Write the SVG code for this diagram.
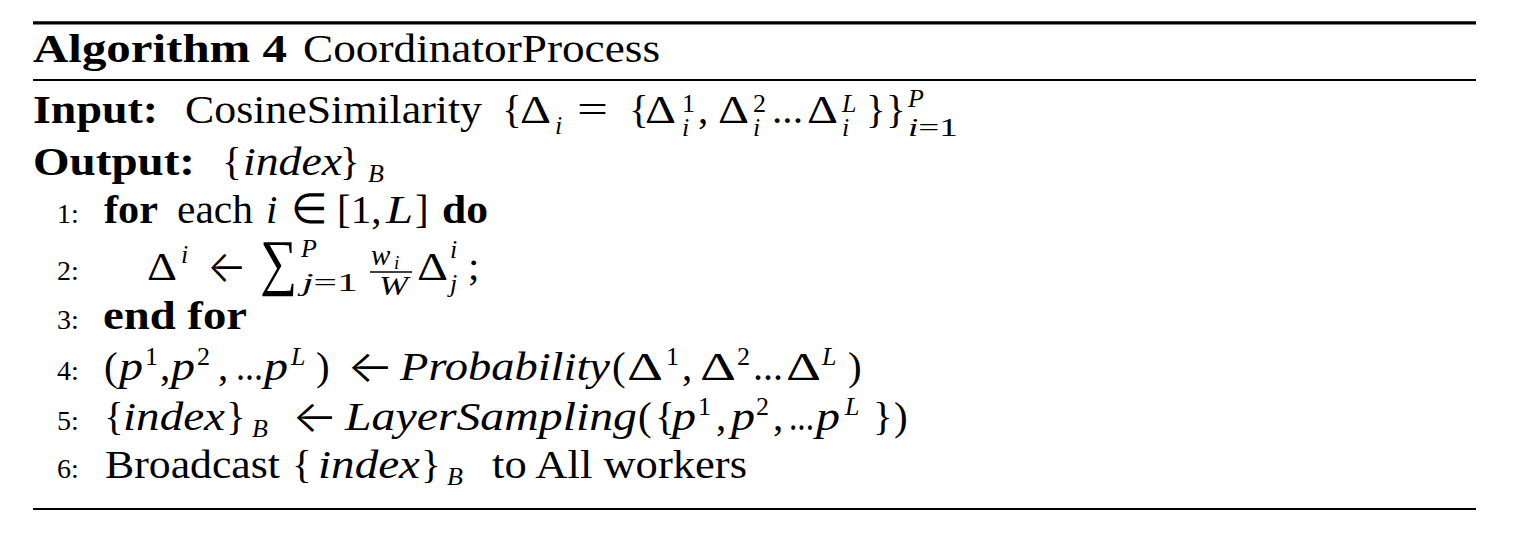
<svg xmlns="http://www.w3.org/2000/svg" width="1531" height="538" viewBox="0 0 1531 538" font-family="'Liberation Serif', 'Times New Roman', serif">
<style>
text { font-family: "Liberation Serif", "Times New Roman", serif; fill: #000; }
.m { font-size: 41px; }
.s { font-size: 26px; }
.ss { font-size: 19px; }
.n { font-size: 28px; }
.b { font-weight: bold; }
.i { font-style: italic; }
text.ar { font-family: "Inter", "DejaVu Sans", sans-serif; font-weight: 300; font-size: 44px; }
text.sym { font-family: "Inter", "DejaVu Sans", sans-serif; font-weight: 300; font-size: 42px; }
.rule { stroke: #000; }
</style>
<rect width="1531" height="538" fill="#fff"/>
<g id="rules">
<line class="rule" x1="33" y1="22.8" x2="1476" y2="22.8" stroke-width="3.2"/>
<line class="rule" x1="33" y1="80" x2="1476" y2="80" stroke-width="2.2"/>
<line class="rule" x1="33" y1="509" x2="1476" y2="509" stroke-width="2.2"/>
</g>
<g id="header">
<text class="m b" x="33" y="62" textLength="254" lengthAdjust="spacingAndGlyphs">Algorithm 4</text>
<text class="m" x="303" y="62" textLength="357" lengthAdjust="spacingAndGlyphs">CoordinatorProcess</text>
</g>
<g id="input">
<text class="m b" x="33" y="123" textLength="125" lengthAdjust="spacingAndGlyphs">Input:</text>
<text class="m" x="185" y="123" textLength="297" lengthAdjust="spacingAndGlyphs">CosineSimilarity</text>
<text class="m" x="502" y="123">{</text>
<text class="m" x="520" y="123" textLength="31" lengthAdjust="spacingAndGlyphs">Δ</text>
<text class="s i" x="555" y="134">i</text>
<text class="m" x="577" y="123" textLength="31" lengthAdjust="spacingAndGlyphs">=</text>
<text class="m" x="629" y="123">{</text>
<text class="m" x="645" y="123" textLength="31" lengthAdjust="spacingAndGlyphs">Δ</text>
<text class="s" x="682" y="112">1</text>
<text class="s i" x="682" y="136">i</text>
<text class="m" x="698" y="123">,</text>
<text class="m" x="718" y="123" textLength="31" lengthAdjust="spacingAndGlyphs">Δ</text>
<text class="s" x="753" y="112">2</text>
<text class="s i" x="753" y="136">i</text>
<text class="m" x="772" y="123" textLength="31" lengthAdjust="spacingAndGlyphs">...</text>
<text class="m" x="807" y="123" textLength="31" lengthAdjust="spacingAndGlyphs">Δ</text>
<text class="s i" x="842" y="112">L</text>
<text class="s i" x="842" y="136">i</text>
<text class="m" x="866" y="123">}</text>
<text class="m" x="886" y="123">}</text>
<text class="s i" x="908" y="107">P</text>
<text class="s" x="908" y="136" textLength="50" lengthAdjust="spacingAndGlyphs"><tspan class="i">i</tspan>=1</text>
</g>
<g id="output">
<text class="m b" x="33" y="175" textLength="162" lengthAdjust="spacingAndGlyphs">Output:</text>
<text class="m" x="222" y="175">{</text>
<text class="m i" x="243" y="175" textLength="99" lengthAdjust="spacingAndGlyphs">index</text>
<text class="m" x="340" y="175">}</text>
<text class="s i" x="368" y="182">B</text>
</g>
<g id="line1">
<text class="n" x="57" y="223">1:</text>
<text class="m b" x="104" y="223" textLength="54" lengthAdjust="spacingAndGlyphs">for</text>
<text class="m" x="177" y="223" textLength="76" lengthAdjust="spacingAndGlyphs">each</text>
<text class="m i" x="266" y="223">i</text>
<text class="sym" x="291" y="223">∈</text>
<text class="m" x="337" y="223">[1,</text>
<text class="m i" x="386" y="223" textLength="27" lengthAdjust="spacingAndGlyphs">L</text>
<text class="m" x="415" y="223">]</text>
<text class="m b" x="442" y="223" textLength="46" lengthAdjust="spacingAndGlyphs">do</text>
</g>
<g id="line2">
<text class="n" x="57" y="280">2:</text>
<text class="m" x="147" y="280" textLength="30" lengthAdjust="spacingAndGlyphs">Δ</text>
<text class="s i" x="181" y="263">i</text>
<text class="ar" x="207" y="282" textLength="40" lengthAdjust="spacingAndGlyphs">←</text>
<text x="260" y="283" style="font-size:62px" textLength="37" lengthAdjust="spacingAndGlyphs">∑</text>
<text class="s i" x="301" y="257">P</text>
<text class="s" x="302" y="291" textLength="56" lengthAdjust="spacingAndGlyphs"><tspan class="i">j</tspan>=1</text>
<text class="i" x="371" y="265" style="font-size:29px">w</text>
<text class="ss i" x="394" y="269">i</text>
<line x1="370" y1="272" x2="412" y2="272" stroke="#000" stroke-width="1.6"/>
<text class="i" x="379" y="295" style="font-size:28px" textLength="29" lengthAdjust="spacingAndGlyphs">W</text>
<text class="m" x="417" y="280" textLength="31" lengthAdjust="spacingAndGlyphs">Δ</text>
<text class="s i" x="450" y="258">i</text>
<text class="s i" x="450" y="292">j</text>
<text class="m" x="468" y="280">;</text>
</g>
<g id="line3">
<text class="n" x="57" y="329">3:</text>
<text class="m b" x="103" y="329" textLength="144" lengthAdjust="spacingAndGlyphs">end for</text>
</g>
<g id="line4">
<text class="n" x="57" y="380">4:</text>
<text class="m" x="104" y="380">(</text>
<text class="m i" x="119" y="380" textLength="24" lengthAdjust="spacingAndGlyphs">p</text>
<text class="s" x="145" y="365">1</text>
<text class="m" x="160" y="380">,</text>
<text class="m i" x="171" y="380" textLength="24" lengthAdjust="spacingAndGlyphs">p</text>
<text class="s" x="197" y="365">2</text>
<text class="m" x="218" y="380">,</text>
<text class="m" x="236" y="380" textLength="27" lengthAdjust="spacingAndGlyphs">...</text>
<text class="m i" x="264" y="380" textLength="24" lengthAdjust="spacingAndGlyphs">p</text>
<text class="s i" x="291" y="365">L</text>
<text class="m" x="316" y="380">)</text>
<text class="ar" x="347" y="382" textLength="47" lengthAdjust="spacingAndGlyphs">←</text>
<text class="m i" x="400" y="380" textLength="210" lengthAdjust="spacingAndGlyphs">Probability</text>
<text class="m" x="612" y="380">(</text>
<text class="m" x="627" y="380" textLength="36" lengthAdjust="spacingAndGlyphs">Δ</text>
<text class="s" x="666" y="365">1</text>
<text class="m" x="682" y="380">,</text>
<text class="m" x="700" y="380" textLength="36" lengthAdjust="spacingAndGlyphs">Δ</text>
<text class="s" x="737" y="365">2</text>
<text class="m" x="753" y="380" textLength="30" lengthAdjust="spacingAndGlyphs">...</text>
<text class="m" x="786" y="380" textLength="35" lengthAdjust="spacingAndGlyphs">Δ</text>
<text class="s i" x="822" y="365">L</text>
<text class="m" x="848" y="380">)</text>
</g>
<g id="line5">
<text class="n" x="57" y="430">5:</text>
<text class="m" x="104" y="430">{</text>
<text class="m i" x="123" y="430" textLength="102" lengthAdjust="spacingAndGlyphs">index</text>
<text class="m" x="226" y="430">}</text>
<text class="s i" x="252" y="437">B</text>
<text class="ar" x="292" y="432" textLength="46" lengthAdjust="spacingAndGlyphs">←</text>
<text class="m i" x="345" y="430" textLength="292" lengthAdjust="spacingAndGlyphs">LayerSampling</text>
<text class="m" x="638" y="430">(</text>
<text class="m" x="655" y="430">{</text>
<text class="m i" x="672" y="430" textLength="24" lengthAdjust="spacingAndGlyphs">p</text>
<text class="s" x="698" y="415">1</text>
<text class="m" x="716" y="430">,</text>
<text class="m i" x="731" y="430" textLength="24" lengthAdjust="spacingAndGlyphs">p</text>
<text class="s" x="756" y="415">2</text>
<text class="m" x="773" y="430">,</text>
<text class="m" x="789" y="430" textLength="25" lengthAdjust="spacingAndGlyphs">...</text>
<text class="m i" x="816" y="430" textLength="24" lengthAdjust="spacingAndGlyphs">p</text>
<text class="s i" x="845" y="415">L</text>
<text class="m" x="873" y="430">}</text>
<text class="m" x="894" y="430">)</text>
</g>
<g id="line6">
<text class="n" x="57" y="478">6:</text>
<text class="m" x="105" y="478" textLength="175" lengthAdjust="spacingAndGlyphs">Broadcast</text>
<text class="m" x="292" y="478">{</text>
<text class="m i" x="318" y="478" textLength="102" lengthAdjust="spacingAndGlyphs">index</text>
<text class="m" x="421" y="478">}</text>
<text class="s i" x="447" y="485">B</text>
<text class="m" x="492" y="478" textLength="255" lengthAdjust="spacingAndGlyphs">to All workers</text>
</g>
</svg>
